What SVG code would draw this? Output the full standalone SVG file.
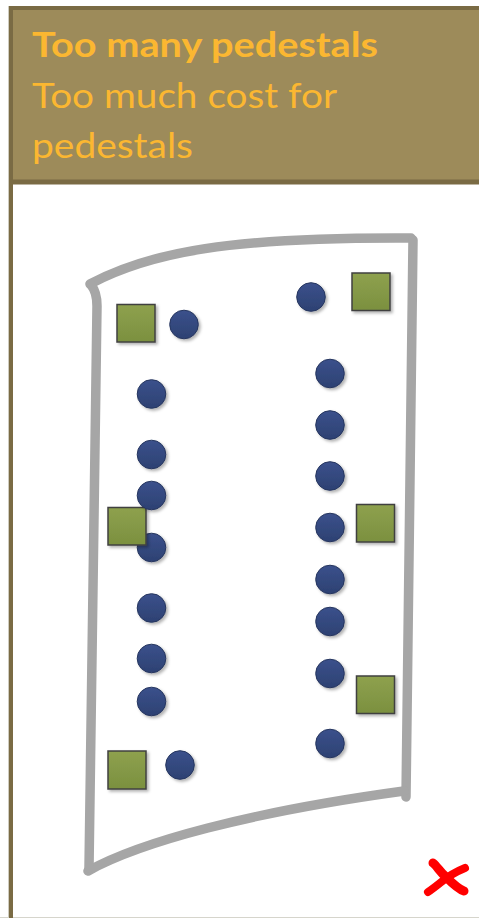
<svg xmlns="http://www.w3.org/2000/svg" width="479" height="918" viewBox="0 0 479 918">
<defs>
<linearGradient id="gBlue" x1="0" y1="0" x2="0" y2="1">
<stop offset="0" stop-color="#3b518c"/>
<stop offset="1" stop-color="#2d4172"/>
</linearGradient>
<linearGradient id="gGreen" x1="0" y1="0" x2="0" y2="1">
<stop offset="0" stop-color="#8ea14e"/>
<stop offset="1" stop-color="#7b903f"/>
</linearGradient>
<filter id="sh" x="-30%" y="-30%" width="170%" height="170%">
<feDropShadow dx="2" dy="2" stdDeviation="1.5" flood-color="#000" flood-opacity="0.3"/>
</filter>
</defs>
<style>
.hdr{font-family:Lato,"Open Sans","Liberation Sans",sans-serif;fill:#fbb731;font-size:35px}
.b{font-weight:bold}
.pile{fill:url(#gBlue);stroke:#26365f;stroke-width:1;filter:url(#sh)}
.ped{fill:url(#gGreen);stroke:#404040;stroke-width:1.5;filter:url(#sh)}
.outline{fill:none;stroke:#a6a6a6;stroke-width:9.5;stroke-linecap:round;stroke-linejoin:round}
</style>
<rect x="0" y="0" width="479" height="918" fill="#ffffff"/>
<g id="frame">
<rect x="11" y="8" width="470" height="174" fill="#9d8b5a"/>
<line x1="8.5" y1="6" x2="8.5" y2="918" stroke="#cfccbf" stroke-width="1"/>
<line x1="0" y1="917.5" x2="479" y2="917.5" stroke="#d6d5cc" stroke-width="1"/>
<line x1="9" y1="8" x2="479" y2="8" stroke="#7a6b44" stroke-width="4"/>
<line x1="9" y1="182" x2="479" y2="182" stroke="#7a6b44" stroke-width="5"/>
<line x1="11" y1="6" x2="11" y2="918" stroke="#7a6b44" stroke-width="4"/>
</g>
<g id="title">
<text class="hdr b" x="32" y="57" textLength="346" lengthAdjust="spacingAndGlyphs">Too many pedestals</text>
<text class="hdr" x="32" y="108" textLength="305" lengthAdjust="spacingAndGlyphs">Too much cost for</text>
<text class="hdr" x="32" y="158" textLength="161" lengthAdjust="spacingAndGlyphs">pedestals</text>
</g>
<g id="outline">
<path class="outline" d="M 90,284 C 150,252 230,237 411,238"/>
<path class="outline" d="M 413,240 L 406,797"/>
<path class="outline" d="M 404,791 C 250,812 140,842 88,871"/>
<path class="outline" d="M 89,868 L 97,306 Q 97,292 91,285"/>
</g>
<g id="piles-left">
<circle class="pile" cx="184" cy="324.5" r="14.3"/>
<circle class="pile" cx="151.5" cy="394" r="14.3"/>
<circle class="pile" cx="151.5" cy="454.5" r="14.3"/>
<circle class="pile" cx="151.5" cy="547.5" r="14.3"/>
<circle class="pile" cx="151.5" cy="608" r="14.3"/>
<circle class="pile" cx="151.5" cy="658.5" r="14.3"/>
<circle class="pile" cx="151.5" cy="701.5" r="14.3"/>
<circle class="pile" cx="180" cy="765" r="14.3"/>
</g>
<g id="piles-right">
<circle class="pile" cx="311" cy="297" r="14.3"/>
<circle class="pile" cx="330" cy="373.5" r="14.3"/>
<circle class="pile" cx="330" cy="425" r="14.3"/>
<circle class="pile" cx="330" cy="476" r="14.3"/>
<circle class="pile" cx="330" cy="527.5" r="14.3"/>
<circle class="pile" cx="330" cy="579.5" r="14.3"/>
<circle class="pile" cx="330" cy="621.5" r="14.3"/>
<circle class="pile" cx="330" cy="673.5" r="14.3"/>
<circle class="pile" cx="330" cy="743.5" r="14.3"/>
</g>
<g id="pedestals">
<rect class="ped" x="117" y="304.5" width="38" height="37.5"/>
<rect class="ped" x="352" y="273" width="38" height="37.5"/>
<rect class="ped" x="108" y="507.5" width="38" height="37.5"/>
<rect class="ped" x="356.5" y="504.5" width="38" height="37.5"/>
<rect class="ped" x="356.5" y="676" width="38" height="37.5"/>
<rect class="ped" x="108" y="751" width="38" height="38"/>
</g>
<g id="pile-front">
<circle class="pile" cx="151.5" cy="495.5" r="14.3"/>
</g>
<g id="cross" fill="none" stroke="#ff0000" stroke-linecap="round">
<path d="M 433,863 C 437,866 440,872 446,877 C 452,883 458,889 464,891" stroke-width="9"/>
<path d="M 465,868 C 455,872 446,878 440,883 C 435,887 431,890 428,892" stroke-width="8"/>
</g>
</svg>
